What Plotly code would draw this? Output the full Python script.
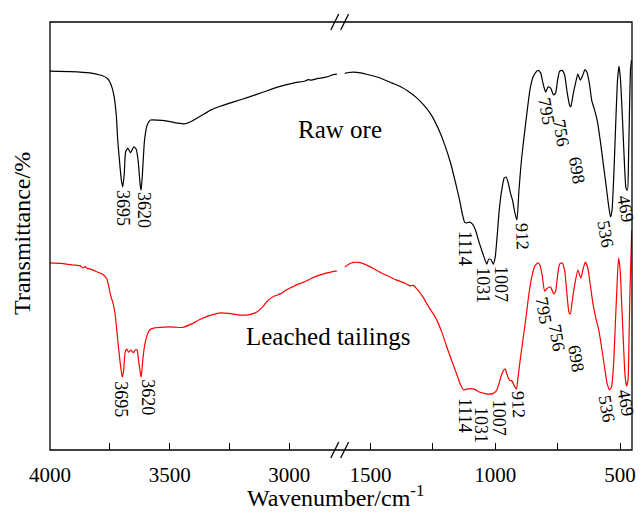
import plotly.graph_objects as go

# ---------------- data ----------------
raw_left_wn = [4000, 3915, 3833, 3791, 3762, 3746, 3733, 3723, 3717, 3708, 3702, 3696, 3690, 3684, 3675,
               3663, 3650, 3640, 3632, 3623, 3619, 3613, 3605, 3594, 3580, 3551, 3514, 3468, 3439, 3406,
               3369, 3327, 3286, 3232, 3170, 3108, 3046, 2983, 2934, 2921, 2909, 2880, 2847, 2834, 2822, 2801]
raw_left_T = [89.6, 89.5, 89.2, 88.7, 88.0, 86.6, 84.0, 79.3, 73.4, 67.5, 64.0, 62.4, 65.2, 70.6, 71.5,
              70.4, 71.8, 71.3, 68.7, 62.8, 61.6, 66.1, 73.4, 76.9, 78.1, 78.1, 77.9, 77.4, 77.2, 77.9,
              79.1, 80.5, 81.4, 82.4, 83.5, 84.7, 85.9, 86.8, 87.3, 87.6, 87.5, 87.9, 88.2, 88.4, 88.7, 88.9]

raw_right_wn = [1603, 1587, 1568, 1540, 1504, 1456, 1413, 1377, 1349, 1318, 1286, 1254, 1226, 1202, 1179,
                1159, 1143, 1131, 1123, 1115, 1103, 1091, 1079, 1064, 1048, 1034, 1026, 1016, 1008, 1000,
                992, 984, 974, 964, 956, 948, 939, 931, 921, 913, 905, 895, 885, 873, 861,
                849, 837, 828, 818, 808, 798, 788, 778, 766, 758, 750, 742, 732, 722, 712,
                702, 697, 689, 679, 669, 659, 649, 641, 633, 623, 613, 603, 591, 579, 568,
                556, 546, 538, 532, 524, 516, 510, 504, 498, 490, 482, 476, 470, 466, 462, 458, 454]
raw_right_T = [89.1, 89.3, 89.4, 89.2, 88.7, 87.9, 86.8, 85.9, 84.9, 83.5, 81.6, 79.1, 75.8, 72.2, 68.0,
               63.3, 59.3, 55.8, 54.1, 53.9, 54.1, 53.6, 52.2, 49.2, 46.4, 44.2, 45.4, 45.2, 44.2, 45.9,
               51.1, 56.9, 61.6, 64.5, 64.7, 63.3, 60.9, 59.3, 56.2, 54.6, 61.6, 68.7, 73.9, 79.8, 85.2,
               88.2, 89.4, 89.8, 89.2, 86.6, 84.7, 85.9, 85.6, 84.0, 84.5, 87.5, 89.6, 89.8, 88.7, 84.7,
               81.6, 81.2, 83.8, 86.6, 88.9, 87.5, 88.7, 89.9, 89.4, 86.8, 82.6, 80.7, 77.9, 73.2, 68.2,
               62.8, 58.1, 55.3, 56.9, 66.4, 79.3, 87.5, 90.8, 87.5, 78.1, 67.5, 62.1, 61.6, 68.7, 80.5, 89.9, 92.2]

leach_left_wn = [4000, 3957, 3903, 3874, 3862, 3853, 3845, 3833, 3812, 3791, 3775, 3762, 3754, 3746, 3737,
                 3729, 3723, 3717, 3710, 3704, 3698, 3692, 3686, 3679, 3671, 3661, 3652, 3644, 3636, 3630,
                 3623, 3619, 3613, 3605, 3594, 3584, 3563, 3522, 3481, 3447, 3410, 3369, 3327, 3294, 3253,
                 3203, 3162, 3137, 3112, 3087, 3062, 3037, 3013, 2988, 2963, 2938, 2913, 2880, 2847, 2822, 2801]
leach_left_T = [44.5, 44.4, 44.0, 43.8, 43.3, 43.6, 43.2, 43.1, 42.6, 42.1, 41.6, 40.7, 38.8, 36.7, 35.1,
                32.9, 29.9, 26.4, 22.6, 19.8, 17.6, 19.3, 23.5, 24.2, 23.5, 24.0, 23.3, 24.0, 24.0, 21.6,
                18.8, 17.6, 21.2, 24.9, 27.5, 28.7, 29.2, 29.4, 29.4, 29.3, 30.1, 31.3, 32.2, 32.7, 32.6,
                32.2, 32.4, 32.9, 34.1, 35.8, 36.7, 37.2, 38.1, 38.8, 39.5, 40.0, 40.7, 41.5, 42.1, 42.4, 42.6]

leach_right_wn = [1603, 1587, 1568, 1548, 1524, 1492, 1456, 1429, 1397, 1365, 1341, 1329, 1314, 1290, 1266,
                  1238, 1214, 1195, 1175, 1155, 1139, 1127, 1115, 1099, 1083, 1064, 1044, 1024, 1008, 996,
                  988, 978, 968, 960, 952, 943, 933, 923, 915, 909, 901, 889, 877, 865, 853,
                  841, 829, 821, 812, 802, 790, 778, 766, 758, 750, 742, 732, 722, 714, 704,
                  699, 691, 681, 669, 657, 647, 639, 629, 619, 609, 597, 585, 574, 562, 552,
                  542, 534, 526, 518, 512, 506, 500, 494, 486, 480, 474, 468, 464, 460, 456, 453]
leach_right_T = [43.5, 44.2, 44.6, 44.6, 44.2, 43.3, 42.1, 41.4, 40.5, 39.8, 39.1, 39.2, 38.4, 36.5, 34.1,
                 31.5, 28.2, 24.9, 21.6, 18.4, 15.8, 14.6, 14.8, 14.9, 14.8, 14.1, 13.8, 13.6, 13.8, 14.4,
                 15.5, 17.6, 19.1, 19.5, 18.1, 16.9, 16.7, 15.5, 14.8, 17.4, 21.2, 26.4, 31.5, 37.2, 41.4,
                 43.8, 44.5, 44.0, 41.6, 37.9, 38.6, 38.8, 37.2, 37.9, 41.6, 44.2, 44.5, 42.8, 38.1, 32.7,
                 32.5, 35.8, 39.5, 42.8, 40.9, 43.3, 44.7, 43.3, 39.3, 35.1, 31.5, 28.7, 24.7, 20.0, 16.2,
                 14.6, 15.3, 20.5, 31.1, 39.3, 45.6, 43.3, 35.8, 25.2, 18.1, 15.5, 16.9, 26.4, 38.1, 46.4, 52.2]

# peak labels
raw_labels = ["3695", "3620", "1114", "1031", "1007", "912", "795", "756", "698", "536", "469"]
raw_label_wn = [3695, 3606, 1121, 1050, 976, 892, 795, 735, 672, 558, 477]
raw_label_T = [57.4, 56.9, 48.0, 39.3, 39.5, 50.8, 80.2, 75.1, 66.4, 51.3, 57.2]
leach_labels = ["3695", "3620", "1114", "1031", "1007", "912", "795", "756", "698", "536", "469"]
leach_label_wn = [3701, 3591, 1121, 1058, 984, 906, 805, 753, 676, 553, 477]
leach_label_T = [12.5, 12.9, 8.7, 6.4, 8.0, 11.1, 33.2, 26.8, 22.1, 10.1, 11.5]
label_side = ["x", "x", "x2", "x2", "x2", "x2", "x2", "x2", "x2", "x2", "x2"]
label_angle = [90, 90, 90, 90, 90, 88, 80, 80, 80, 80, 80]

left_ticks = [4000, 3500, 3000]
left_minor = [3750, 3250]
right_ticks = [1500, 1000, 500]
right_minor = [1250, 750]

FONT = "Liberation Serif"

fig = go.Figure()
line_kw = dict(shape="spline", smoothing=0.5, width=1.2)
fig.add_trace(go.Scatter(x=raw_left_wn, y=raw_left_T, mode="lines", xaxis="x", yaxis="y",
                         line=dict(color="black", **line_kw), showlegend=False))
fig.add_trace(go.Scatter(x=raw_right_wn, y=raw_right_T, mode="lines", xaxis="x2", yaxis="y",
                         line=dict(color="black", **line_kw), showlegend=False))
fig.add_trace(go.Scatter(x=leach_left_wn, y=leach_left_T, mode="lines", xaxis="x", yaxis="y",
                         line=dict(color="red", **line_kw), showlegend=False))
fig.add_trace(go.Scatter(x=leach_right_wn, y=leach_right_T, mode="lines", xaxis="x2", yaxis="y",
                         line=dict(color="red", **line_kw), showlegend=False))

annotations = []
for texts, wns, ts in [(raw_labels, raw_label_wn, raw_label_T), (leach_labels, leach_label_wn, leach_label_T)]:
    for t, w, v, side, ang in zip(texts, wns, ts, label_side, label_angle):
        annotations.append(dict(text=t, x=w, y=v, xref=side, yref="y", showarrow=False,
                                xanchor="center", yanchor="middle",
                                textangle=ang, font=dict(family=FONT, size=18, color="black")))

center = dict(xref="paper", yref="paper", showarrow=False, xanchor="center", yanchor="middle")
annotations += [
    dict(text="Raw ore", x=0.498, y=0.75, font=dict(family=FONT, size=25, color="black"), **center),
    dict(text="Leached tailings", x=0.478, y=0.266, font=dict(family=FONT, size=25, color="black"), **center),
    dict(text="Wavenumber/cm<sup>-1</sup>", x=0.49, y=-0.107, font=dict(family=FONT, size=24, color="black"),
         **center),
    dict(text="Transmittance/%", x=-0.048, y=0.505, textangle=-90,
         font=dict(family=FONT, size=24, color="black"), **center),
]

split = 0.4983
shapes = [dict(type="rect", xref="paper", yref="paper", x0=0, y0=0, x1=1, y1=1,
               line=dict(color="black", width=1.3))]
# axis-break marks
for xc in (0.4893, 0.5063):
    for yc in (0.0, 1.0):
        shapes.append(dict(type="line", xref="paper", yref="paper",
                           x0=xc - 0.0068, y0=yc - 0.0187, x1=xc + 0.0068, y1=yc + 0.0187,
                           line=dict(color="black", width=1.3)))

axis_common = dict(ticks="inside", ticklen=7, tickwidth=1, tickcolor="black", showgrid=False,
                   zeroline=False, showline=False, ticklabelstandoff=10,
                   tickfont=dict(family=FONT, size=21, color="black"))
minor_common = dict(ticks="inside", ticklen=7, tickwidth=1, tickcolor="black", showgrid=False)

fig.update_layout(
    width=641, height=513,
    margin=dict(l=50, r=5, t=22, b=63),
    paper_bgcolor="white", plot_bgcolor="white",
    xaxis=dict(domain=[0, split], range=[4000, 2788], tickvals=left_ticks,
               minor=dict(tickvals=left_minor, **minor_common), anchor="y", **axis_common),
    xaxis2=dict(domain=[split, 1], range=[1622, 452], tickvals=right_ticks,
                minor=dict(tickvals=right_minor, **minor_common), anchor="y", **axis_common),
    yaxis=dict(range=[0.47, 101.18], showticklabels=False, ticks="", showgrid=False, zeroline=False,
               showline=False),
    annotations=annotations,
    shapes=shapes,
)

fig.write_html("out.html")
